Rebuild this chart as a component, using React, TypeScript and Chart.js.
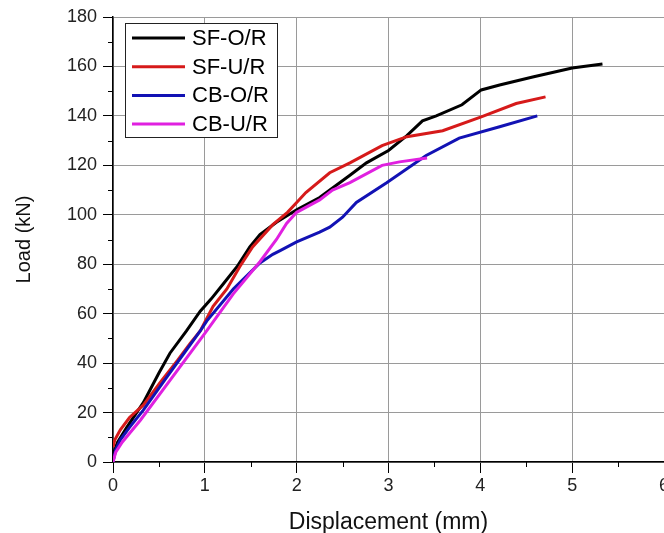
import React, { useEffect, useRef } from 'react';
import { Chart, registerables } from 'chart.js';

Chart.register(...registerables);

// ---- data ----
const seriesLabels = ['SF-O/R', 'SF-U/R', 'CB-O/R', 'CB-U/R'];
const seriesColors = ['#000000', '#d61a1a', '#1212b4', '#e020e0'];

const sfOrX = [0, 0.05, 0.15, 0.33, 0.5, 0.62, 0.8, 0.95, 1.07, 1.2, 1.35, 1.49, 1.6, 1.78, 2.0, 2.25, 2.58, 2.76, 3.0, 3.2, 3.37, 3.52, 3.8, 4.01, 4.21, 4.57, 5.0, 5.33];
const sfOrY = [3, 8, 14, 24, 36, 44, 53, 61, 66, 72, 79, 87, 92, 97, 102, 107, 116, 121, 126, 132, 138, 140, 144.5, 150.5, 152.5, 155.7, 159.4, 161];

const sfUrX = [0, 0.02, 0.08, 0.18, 0.33, 0.51, 0.7, 0.84, 0.95, 1.09, 1.24, 1.38, 1.52, 1.74, 1.9, 2.0, 2.1, 2.36, 2.58, 2.93, 3.2, 3.59, 4.01, 4.39, 4.71];
const sfUrY = [6, 9, 13, 18, 23, 32, 41, 48, 53, 63, 70, 79, 87, 96, 101, 105, 109, 117, 121, 128, 131.6, 134, 139.6, 145, 147.7];

const cbOrX = [0, 0.03, 0.08, 0.18, 0.33, 0.58, 0.95, 1.02, 1.31, 1.6, 1.74, 1.82, 2.0, 2.25, 2.36, 2.5, 2.65, 2.98, 3.41, 3.77, 4.21, 4.62];
const cbOrY = [0, 5, 9, 14, 21, 34, 53, 57, 70, 80.5, 84, 85.5, 89, 93, 95, 99, 105, 113, 124, 131, 135.6, 140];

const cbUrX = [0, 0.03, 0.1, 0.3, 0.6, 1.0, 1.31, 1.6, 1.78, 1.89, 2.0, 2.25, 2.39, 2.58, 2.93, 3.12, 3.42];
const cbUrY = [0, 4, 8, 17, 32, 52, 68, 81, 90, 96.5, 101, 106, 110, 113, 120, 121.4, 123];

const xMinorTicks = [0.5, 1.5, 2.5, 3.5, 4.5, 5.5];
const yMinorTicks = [10, 30, 50, 70, 90, 110, 130, 150, 170];

const xTitle = 'Displacement (mm)';
const yTitle = 'Load (kN)';

const FONT = "'Liberation Sans', Arial, sans-serif";

function pts(xs: number[], ys: number[]) {
  return xs.map((x, i) => ({ x, y: ys[i] }));
}

const minorTickPlugin = {
  id: 'minorTicks',
  afterDraw(chart: any) {
    const { ctx, chartArea } = chart;
    const xs = chart.scales.x;
    const ys = chart.scales.y;
    ctx.save();
    ctx.strokeStyle = '#000';
    ctx.lineWidth = 1;
    for (const v of xMinorTicks) {
      const px = Math.round(xs.getPixelForValue(v)) + 0.5;
      ctx.beginPath();
      ctx.moveTo(px, chartArea.bottom);
      ctx.lineTo(px, chartArea.bottom + 5);
      ctx.stroke();
    }
    for (const v of yMinorTicks) {
      const py = Math.round(ys.getPixelForValue(v)) + 0.5;
      ctx.beginPath();
      ctx.moveTo(chartArea.left, py);
      ctx.lineTo(chartArea.left - 5, py);
      ctx.stroke();
    }
    ctx.restore();
  },
};

const boxLegendPlugin = {
  id: 'boxLegend',
  afterDraw(chart: any) {
    const { ctx } = chart;
    const ds = chart.data.datasets;
    const bx = 125.5, by = 23.5, bw = 152, bh = 114;
    ctx.save();
    ctx.fillStyle = '#fff';
    ctx.fillRect(bx, by, bw, bh);
    ctx.strokeStyle = '#222';
    ctx.lineWidth = 1;
    ctx.strokeRect(bx, by, bw, bh);
    ctx.font = `22px ${FONT}`;
    ctx.textBaseline = 'middle';
    ctx.textAlign = 'left';
    ds.forEach((d: any, i: number) => {
      const y = 38 + i * 28.7;
      ctx.strokeStyle = d.borderColor;
      ctx.lineWidth = 3;
      ctx.beginPath();
      ctx.moveTo(132, y);
      ctx.lineTo(185, y);
      ctx.stroke();
      ctx.fillStyle = '#000';
      ctx.fillText(d.label, 192, y + 1);
    });
    ctx.restore();
  },
};

export default function App() {
  const ref = useRef<HTMLCanvasElement | null>(null);

  useEffect(() => {
    if (!ref.current) return;
    const data = [pts(sfOrX, sfOrY), pts(sfUrX, sfUrY), pts(cbOrX, cbOrY), pts(cbUrX, cbUrY)];
    const chart = new Chart(ref.current, {
      type: 'line',
      data: {
        datasets: data.map((d, i) => ({
          label: seriesLabels[i],
          data: d,
          borderColor: seriesColors[i],
          backgroundColor: seriesColors[i],
          borderWidth: 3,
          pointRadius: 0,
          tension: 0,
          fill: false,
          order: 3 - i,
        })),
      },
      options: {
        responsive: false,
        animation: false,
        devicePixelRatio: 1,
        layout: { padding: { top: 17, left: 0, right: 0, bottom: 0 } },
        plugins: {
          legend: { display: false },
          tooltip: { enabled: false },
        },
        scales: {
          x: {
            type: 'linear',
            min: 0,
            max: 6,
            ticks: {
              stepSize: 1,
              color: '#222',
              font: { family: FONT, size: 18 },
              padding: 2,
              maxRotation: 0,
            },
            grid: {
              color: '#9a9a9a',
              lineWidth: 1,
              tickLength: 11,
              tickColor: '#000',
            },
            border: { color: '#000', width: 1.5 },
            title: {
              display: true,
              text: xTitle,
              color: '#111',
              font: { family: FONT, size: 23, lineHeight: 1 },
              padding: { top: 0, bottom: -1 },
            },
            afterFit(scale: any) {
              scale.height = 71;
              scale.paddingRight = 0;
              scale.paddingLeft = 0;
            },
          },
          y: {
            type: 'linear',
            min: 0,
            max: 180,
            ticks: {
              stepSize: 20,
              color: '#222',
              font: { family: FONT, size: 18 },
              padding: 6,
            },
            grid: {
              color: '#9a9a9a',
              lineWidth: 1,
              tickLength: 10,
              tickColor: '#000',
            },
            border: { color: '#000', width: 1.5 },
            title: {
              display: true,
              text: yTitle,
              color: '#111',
              font: { family: FONT, size: 20 },
              padding: { top: 12, bottom: 0 },
            },
            afterFit(scale: any) {
              scale.width = 113;
            },
          },
        },
      },
      plugins: [minorTickPlugin, boxLegendPlugin],
    } as any);
    return () => chart.destroy();
  }, []);

  return (
    <div style={{ position: 'fixed', left: 0, top: 0, width: 664, height: 533, background: '#fff', overflow: 'hidden' }}>
      <canvas ref={ref} width={664} height={533} style={{ display: 'block' }} />
    </div>
  );
}
